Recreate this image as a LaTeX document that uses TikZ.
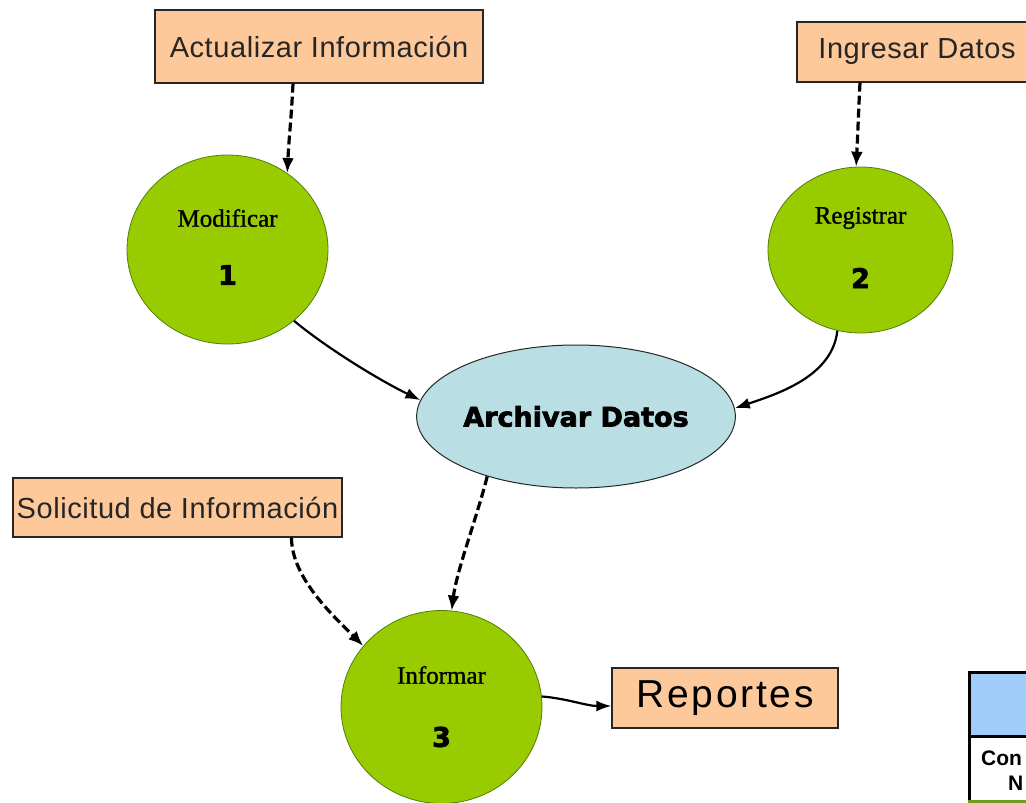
\documentclass[tikz,border=0pt]{standalone}
\usepackage{fontspec}
\setmainfont{Liberation Serif}
\newfontfamily\circfont[FakeBold=1.2]{Liberation Serif}
\newfontfamily\boxfont[LetterSpace=2]{Liberation Sans}
\newfontfamily\bigboxfont[LetterSpace=7]{Liberation Sans}
\newfontfamily\heavyfont[FakeBold=2.5]{DejaVu Sans Bold}
\newfontfamily\tabfont{Liberation Sans Bold}
\usetikzlibrary{arrows.meta,shapes.geometric,calc}
\definecolor{peach}{HTML}{FDC99B}
\definecolor{procgreen}{HTML}{99CC00}
\definecolor{procedge}{HTML}{4F7F0A}
\definecolor{storeblue}{HTML}{B9DEE4}
\definecolor{tablehead}{HTML}{A0CCFA}
\definecolor{tableline}{HTML}{6E9A1E}
\begin{document}
\begin{tikzpicture}[x=1pt,y=-1pt,
  extbox/.style={draw=black!85, line width=1.2pt, fill=peach, inner sep=0pt,
    font=\boxfont\fontsize{29}{32}\selectfont, text=black!85},
  proc/.style={ellipse, draw=procedge, line width=0.8pt, fill=procgreen, inner sep=0pt},
  proclabel/.style={font=\circfont\fontsize{25}{28}\selectfont, inner sep=0pt},
  procnum/.style={font=\heavyfont\fontsize{27}{30}\selectfont, inner sep=0pt},
  store/.style={ellipse, draw=black!85, line width=1pt, fill=storeblue, inner sep=0pt,
    minimum width=300pt, minimum height=143pt,
    font=\heavyfont\fontsize{27}{30}\selectfont},
  flow/.style={line width=2.2pt, -{Latex[length=15pt,width=11pt]}},
  dflow/.style={line width=3.2pt, dash pattern=on 9pt off 4pt, -{Latex[length=15pt,width=12pt]}},
  tabcell/.style={draw=black, line width=3pt, inner sep=0pt, anchor=north west},
  tabtext/.style={font=\tabfont\fontsize{21}{24}\selectfont, inner sep=0pt, anchor=west}
]
\useasboundingbox (0,0) rectangle (1026,803);
\fill[white] (0,0) rectangle (1026,803);

% external entities
\node[extbox, minimum width=328pt, minimum height=73pt] (a1) at (319,46.5) {Actualizar Información};
\node[extbox, minimum width=240pt, minimum height=60pt] (b1) at (917,52) {Ingresar Datos};
\node[extbox, minimum width=329pt, minimum height=59pt] (s1) at (177.5,507.5) {Solicitud de Información};
\node[extbox, minimum width=226pt, minimum height=60pt, text=black, font=\bigboxfont\fontsize{39}{42}\selectfont] (r1) at (725,698) {Reportes};

% processes
\node[proc, minimum width=201pt, minimum height=189pt] (c1) at (227.5,249.5) {};
\node[proclabel] (c1t) at (227.5,218) {Modificar};
\node[procnum] (c1n) at (227.5,275) {1};

\node[proc, minimum width=185pt, minimum height=166pt] (c2) at (860.5,250) {};
\node[proclabel] (c2t) at (860.5,218) {Registrar};
\node[procnum] (c2n) at (860.5,278) {2};

\node[proc, minimum width=201pt, minimum height=193pt] (c3) at (441.5,707) {};
\node[proclabel] (c3t) at (441.5,675) {Informar};
\node[procnum] (c3n) at (441.5,737) {3};

% data store
\node[store] (st) at (576,416.5) {Archivar Datos};

% table (cut off)
\node[tabcell, fill=tablehead, minimum width=90pt, minimum height=64pt] (th) at (968,671) {};
\node[tabcell, fill=white, minimum width=90pt, minimum height=80pt] (tr) at (968,735) {};
\draw[tableline, line width=3pt] (th.west |- 0,801) -- (1040,801);
\node[tabtext] (tc1) at (981,758) {Con};
\node[tabtext] (tc2) at (1008,783) {N};

% flows
\draw[dflow] ([xshift=-26pt]a1.south) .. controls +(-2,40) and +(2,-40) .. (c1.52);
\draw[dflow] ([xshift=-57pt]b1.south) .. controls +(-2,40) and +(2,-40) .. (c2.93);
\draw[flow] (c1.-47) .. controls +(30,25) and +(-45,-22) .. (st.174);
\draw[flow] (c2.-106) .. controls +(-5,45) and +(45,-15) .. (st.3);
\draw[dflow] (st.-146) .. controls +(-10,40) and +(5,-40) .. (c3.84);
\draw[dflow] ([xshift=114pt]s1.south) .. controls +(0,40) and +(-30,-30) .. (c3.142);
\draw[flow] (c3.6) .. controls +(25,2) and +(-25,0) .. ([yshift=-8pt]r1.west);
\end{tikzpicture}
\end{document}
